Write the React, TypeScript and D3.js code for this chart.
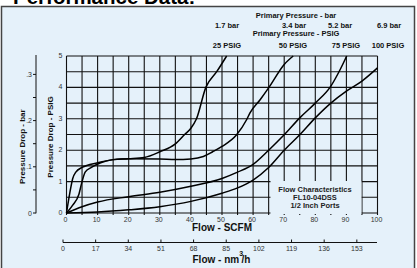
import * as d3 from "d3";
import { useEffect, useRef } from "react";

// flow in SCFM, pressure drop in PSIG
const flow25 = [0, 1, 2, 3, 5, 10, 15, 20, 25, 30, 35, 38, 40, 41.8, 44.8, 48.3, 51.5];
const drop25 = [0, 0.6, 1.1, 1.3, 1.45, 1.6, 1.7, 1.73, 1.77, 1.95, 2.2, 2.5, 2.7, 3.0, 4.0, 4.5, 5.0];

const flow50 = [0, 2, 4, 5, 6, 8, 11, 15, 20, 30, 35, 40, 44, 47, 50, 54.7, 57.9, 59, 62.2, 65.1, 70, 72.9];
const drop50 = [0, 0.25, 0.6, 1.0, 1.3, 1.45, 1.6, 1.7, 1.73, 1.72, 1.7, 1.72, 1.8, 1.95, 2.12, 2.49, 2.97, 3.19, 3.6, 4.0, 4.73, 5.0];

const flow75 = [0, 5, 10, 20, 30, 40, 50, 55, 60, 65, 70, 75, 80, 85, 88, 90.1];
const drop75 = [0, 0.2, 0.35, 0.52, 0.66, 0.85, 1.1, 1.3, 1.55, 2.0, 2.49, 3.03, 3.5, 4.04, 4.57, 5.0];

const flow100 = [0, 10, 20, 30, 40, 50, 55, 60, 65, 70, 75, 80, 85, 90, 95, 100];
const drop100 = [0, 0.03, 0.1, 0.2, 0.37, 0.63, 0.8, 1.05, 1.45, 2.0, 2.49, 3.03, 3.5, 3.88, 4.2, 4.62];

const scfmTicks = [0, 10, 20, 30, 40, 50, 60, 70, 80, 90, 100];
const psigTicks = [0, 1, 2, 3, 4, 5];
const barTicks = [0, 0.1, 0.2, 0.3];
const barMinor = [0.05, 0.15, 0.25];
const nmTicks = [0, 17, 34, 51, 68, 85, 102, 119, 136, 153];

const barLabels = ["1.7 bar", "3.4 bar", "5.2 bar", "6.9 bar"];
const psigLabels = ["25 PSIG", "50 PSIG", "75 PSIG", "100 PSIG"];
const labelCenters = [227, 294, 340, 389];
const psigCenters = [227, 293, 346, 388];
const boxLines = ["Flow Characteristics", "FL10-04DSS", "1/2 Inch Ports"];

const BG = "#e5f1fa";
const FONT = "'Liberation Sans', Arial, sans-serif";

function drawChart(svgEl: SVGSVGElement) {
    const svg = d3.select(svgEl);
    svg.selectAll("*").remove();

    const x = d3.scaleLinear().domain([0, 100]).range([66.5, 377.5]);
    const y = d3.scaleLinear().domain([0, 5]).range([213, 56]);
    const yBar = d3.scaleLinear().domain([0, 0.3]).range([213, 74.4]);
    const xNm = d3.scaleLinear().domain([0, 163.5]).range([63, 377]);

    // page title, cut off at the top
    svg.append("text")
        .attr("x", 13).attr("y", 3.5)
        .attr("font-family", FONT).attr("font-weight", "bold").attr("font-size", 20.5)
        .text("Performance Data:");

    // framed panel
    svg.append("rect")
        .attr("x", 1.5).attr("y", 6.5).attr("width", 413).attr("height", 280)
        .attr("fill", BG).attr("stroke", "#444").attr("stroke-width", 1.5);

    // grid
    const grid = svg.append("g").attr("stroke", "#111").attr("stroke-width", 1.1);
    grid.selectAll("line.v")
        .data(d3.range(0, 101, 5))
        .enter().append("line")
        .attr("x1", d => x(d)).attr("x2", d => x(d))
        .attr("y1", y(5)).attr("y2", y(0) + 2);
    grid.selectAll("line.h")
        .data(d3.range(0, 5.01, 0.5))
        .enter().append("line")
        .attr("x1", x(0)).attr("x2", x(100))
        .attr("y1", d => y(d)).attr("y2", d => y(d));

    // curves
    const line = d3.line<[number, number]>()
        .x(d => x(d[0]))
        .y(d => y(d[1]))
        .curve(d3.curveMonotoneX);
    const series = [
        d3.zip(flow25, drop25),
        d3.zip(flow50, drop50),
        d3.zip(flow75, drop75),
        d3.zip(flow100, drop100),
    ] as [number, number][][];
    svg.append("g").selectAll("path")
        .data(series)
        .enter().append("path")
        .attr("d", d => line(d))
        .attr("fill", "none")
        .attr("stroke", "#000")
        .attr("stroke-width", 1.5);

    // label box
    svg.append("rect")
        .attr("x", 270.5).attr("y", 181).attr("width", 91).attr("height", 33)
        .attr("fill", BG);
    svg.append("g").selectAll("text")
        .data(boxLines)
        .enter().append("text")
        .attr("x", 315).attr("y", (d, i) => 191.5 + i * 8)
        .attr("text-anchor", "middle")
        .attr("font-family", FONT).attr("font-weight", "bold").attr("font-size", 7.5)
        .attr("fill", "#222")
        .text(d => d);

    // PSIG tick labels
    const tickText = (g: any) => g
        .attr("font-family", FONT).attr("font-size", 7).attr("fill", "#333");
    svg.append("g").call(tickText)
        .selectAll("text").data(psigTicks).enter().append("text")
        .attr("x", 62.5).attr("y", d => y(d) + 2)
        .attr("text-anchor", "end")
        .text(d => d);
    svg.append("g").call(tickText)
        .selectAll("text").data(scfmTicks).enter().append("text")
        .attr("x", d => x(d) - 1).attr("y", 221.5)
        .attr("text-anchor", "middle")
        .text(d => d);

    // bar axis
    const barAxis = svg.append("g");
    barAxis.append("line")
        .attr("x1", 36).attr("x2", 36).attr("y1", 55).attr("y2", 213.3)
        .attr("stroke", "#111");
    barAxis.selectAll("line.t")
        .data(barTicks.concat(barMinor))
        .enter().append("line")
        .attr("x1", 33).attr("x2", 36)
        .attr("y1", d => yBar(d)).attr("y2", d => yBar(d))
        .attr("stroke", "#111");
    barAxis.append("g").call(tickText)
        .selectAll("text").data(barTicks).enter().append("text")
        .attr("x", 32).attr("y", d => yBar(d) + 2.5)
        .attr("text-anchor", "end")
        .text(d => d === 0 ? "0" : d3.format(".1f")(d).replace(/^0/, ""));

    // nm3/h axis
    const nmAxis = svg.append("g");
    nmAxis.append("line")
        .attr("x1", xNm(0)).attr("x2", 377).attr("y1", 242.5).attr("y2", 242.5)
        .attr("stroke", "#111").attr("stroke-width", 1.2);
    nmAxis.selectAll("line.t")
        .data(nmTicks)
        .enter().append("line")
        .attr("x1", d => xNm(d)).attr("x2", d => xNm(d))
        .attr("y1", 239.5).attr("y2", 242.5)
        .attr("stroke", "#111");
    nmAxis.append("g").call(tickText)
        .selectAll("text").data(nmTicks).enter().append("text")
        .attr("x", d => xNm(d)).attr("y", 250.5)
        .attr("text-anchor", "middle")
        .text(d => d);

    // axis titles
    const bold = (sel: any, size: number) => sel
        .attr("font-family", FONT).attr("font-weight", "bold").attr("font-size", size)
        .attr("fill", "#111");
    svg.append("text").call(bold, 10)
        .attr("x", 222).attr("y", 231).attr("text-anchor", "middle")
        .text("Flow - SCFM");
    const nmTitle = svg.append("text").call(bold, 10)
        .attr("x", 192.5).attr("y", 263);
    nmTitle.append("tspan").text("Flow - nm");
    nmTitle.append("tspan").attr("font-size", 7).attr("dy", -7).text("3");
    nmTitle.append("tspan").attr("dy", 7).attr("dx", -1.5).text("/h");

    svg.append("text").call(bold, 8)
        .attr("transform", "translate(24.5,146.7) rotate(-90)")
        .attr("text-anchor", "middle")
        .text("Pressure Drop - bar");
    svg.append("text").call(bold, 8)
        .attr("transform", "translate(53,137) rotate(-90)")
        .attr("text-anchor", "middle")
        .text("Pressure Drop - PSIG");

    // primary pressure headers
    svg.append("text").call(bold, 7.5)
        .attr("x", 296).attr("y", 18).attr("text-anchor", "middle")
        .text("Primary Pressure - bar");
    svg.append("text").call(bold, 7.5)
        .attr("x", 296).attr("y", 36).attr("text-anchor", "middle")
        .text("Primary Pressure - PSIG");
    svg.append("g").selectAll("text")
        .data(barLabels).enter().append("text").call(bold, 7.5)
        .attr("x", (d, i) => labelCenters[i]).attr("y", 28).attr("text-anchor", "middle")
        .text(d => d);
    svg.append("g").selectAll("text")
        .data(psigLabels).enter().append("text").call(bold, 7.5)
        .attr("x", (d, i) => psigCenters[i]).attr("y", 47.5).attr("text-anchor", "middle")
        .text(d => d);
}

export default function App() {
    const svgRef = useRef<SVGSVGElement>(null);
    useEffect(() => {
        if (svgRef.current) drawChart(svgRef.current);
    }, []);

    return (
        <svg
            ref={svgRef}
            width={417}
            height={268}
            style={{ position: "absolute", left: 0, top: 0, background: "#fff" }}
        />
    );
}
